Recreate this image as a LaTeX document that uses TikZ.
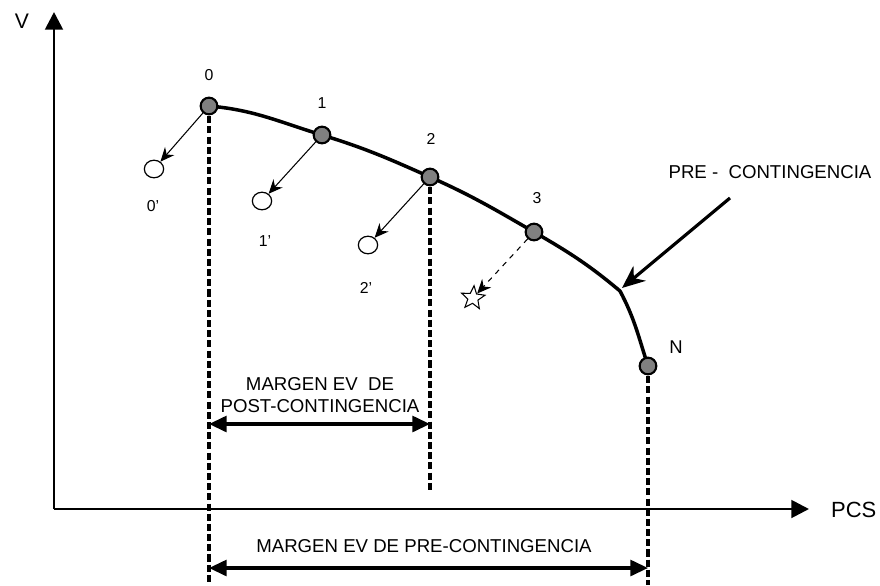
\documentclass[tikz,border=0pt]{standalone}
\usepackage{fontspec}
\setmainfont{Liberation Sans}
\usetikzlibrary{arrows.meta,positioning,shapes.geometric}

\begin{document}
\begin{tikzpicture}[x=0.2mm, y=-0.2mm, >=Stealth,
 pt/.style={draw, circle, line width=1.2pt, fill=black!50, minimum size=9.5pt, inner sep=0pt},
 vc/.style={draw, ellipse, line width=0.7pt, fill=white, minimum width=11pt, minimum height=10pt, inner sep=0pt},
 lbl/.style={font=\fontsize{9}{10}\selectfont},
 mrg/.style={font=\fontsize{10.6}{12.5}\selectfont, align=center},
 eje/.style={line width=1.6pt, -{Triangle[length=10pt,width=10pt]}},
 guia/.style={line width=1.8pt, dash pattern=on 4pt off 1.8pt},
 cota/.style={line width=1.8pt, {Triangle[length=10pt,width=9pt]}-{Triangle[length=10pt,width=9pt]}},
 mov/.style={line width=0.6pt, -{Stealth[length=8pt,width=7pt]}}]
\useasboundingbox (0,0) rectangle (880,585);
% ejes
\coordinate (o) at (54,509);
\coordinate (vtop) at (54,12);
\coordinate (xend) at (809,509);
\draw[eje] (o) -- (vtop);
\draw[eje] (o) -- (xend);
\node[font=\fontsize{12}{14}\selectfont] (lv) at (22,21) {V};
\node[font=\fontsize{12.5}{14}\selectfont, anchor=west] (lpcs) at (825,510) {PCS};
% curva PV
\coordinate (c0) at (209,106);
\coordinate (c1) at (322,135);
\coordinate (c2) at (430,177);
\coordinate (c3) at (534,232);
\coordinate (k)  at (620,291);
\coordinate (cn) at (648,366);
\draw[line width=2pt] (c0) to[out=-5,in=163] (c1) to[out=-17,in=156] (c2)
  to[out=-24,in=150] (c3) to[out=-30,in=140] (k) to[out=-62,in=108] (cn);
% guias
\coordinate (g0) at (209,585);
\coordinate (g2) at (430,490);
\coordinate (gn) at (648,585);
\draw[guia] (c0) -- (g0);
\draw[guia] (c2) -- (g2);
\draw[guia] (cn) -- (gn);
% puntos
\node[pt] (p0) at (c0) {};
\node[pt] (p1) at (c1) {};
\node[pt] (p2) at (c2) {};
\node[pt] (p3) at (c3) {};
\node[pt] (pn) at (cn) {};
\node[lbl] (l0) at (209,75) {0};
\node[lbl] (l1) at (322,103) {1};
\node[lbl] (l2) at (431,139) {2};
\node[lbl] (l3) at (537,198) {3};
\node[lbl, font=\fontsize{10.5}{12}\selectfont] (ln) at (676,347) {N};
% post-contingencia
\node[vc] (q0) at (154,169) {};
\node[vc] (q1) at (262,201) {};
\node[vc] (q2) at (368,245) {};
\node[draw, star, star points=5, star point ratio=2.3, minimum size=14pt, inner sep=0pt,
  line width=0.6pt, rotate=-5] (q3) at (473,298) {};
\node[lbl] (l0b) at (153,206) {0'};
\node[lbl] (l1b) at (265,241) {1'};
\node[lbl] (l2b) at (366,288) {2'};
\draw[mov] (p0) -- (q0);
\draw[mov] (p1) -- (q1);
\draw[mov] (p2) -- (q2);
\draw[mov, dashed] (p3) -- (q3);
% pre-contingencia
\node[mrg] (lpre) at (770,172) {PRE -\ \ CONTINGENCIA};
\coordinate (fa) at (730,198);
\coordinate (fb) at (622,288);
\draw[line width=1.8pt, -{Stealth[length=13pt,width=11pt]}] (fa) -- (fb);
% margenes
\node[mrg] (mpost) at (320,395) {MARGEN EV\ \ DE\\POST-CONTINGENCIA};
\coordinate (a0) at (209,424);
\coordinate (a2) at (430,424);
\draw[cota] (a0) -- (a2);
\node[mrg] (mpre) at (424,546) {MARGEN EV DE PRE-CONTINGENCIA};
\coordinate (b0) at (209,568);
\coordinate (bn) at (648,568);
\draw[cota] (b0) -- (bn);
\end{tikzpicture}
\end{document}
